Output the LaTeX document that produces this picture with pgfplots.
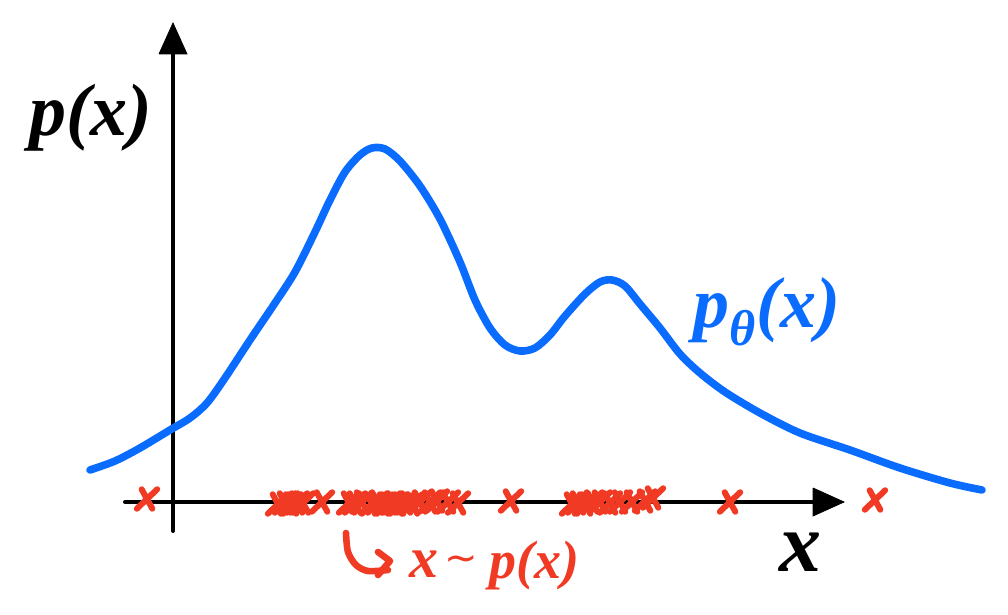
\documentclass[border=0pt]{standalone}
\usepackage{fontspec}
\setmainfont{Liberation Serif}
\newfontfamily\symfont{DejaVu Sans}
\usepackage{pgfplots}
\pgfplotsset{compat=1.18}
\definecolor{curveblue}{HTML}{0A6CFF}
\definecolor{samplered}{HTML}{F03A24}
\newcommand{\hand}[1]{\fontsize{#1}{#1}\selectfont\bfseries\itshape}
\begin{document}
\begin{tikzpicture}
\begin{axis}[
    scale only axis,
    width=504pt, height=307.5pt,
    xmin=0, xmax=1008, ymin=0, ymax=615,
    y dir=reverse,
    hide axis,
    clip=false,
]
% axes, in image pixels
\addplot[black, line width=2pt, line cap=round] coordinates {(125,502) (815,502)};
\addplot[black, line width=2pt, line cap=round] coordinates {(173,531) (173,50)};
\addplot[black, fill=black] coordinates {(159,54) (173,23) (187,54) (159,54)};
\addplot[black, fill=black] coordinates {(813,488) (844,502) (813,516) (813,488)};

% density curve
\addplot[curveblue, line width=3.8pt, line cap=round, smooth] coordinates {
    (90,470) (115,461) (140,448) (170,430) (190,418) (207,403) (225,378)
    (250,340) (275,303) (295,272) (315,232) (330,200) (345,172) (360,155)
    (372,148) (385,149) (400,161) (420,186) (440,219) (460,262) (475,300)
    (490,328) (505,345) (520,351) (535,348) (550,335) (565,316) (585,294)
    (600,282) (612,280) (625,286) (640,304) (660,328) (680,354) (700,373)
    (725,392) (760,413) (800,433) (850,450) (900,468) (950,483) (982,490)
};

% samples
\addplot[only marks, samplered, mark=x, mark size=5.5pt,
    mark options={line width=3pt, line cap=round, xslant=0.25, yscale=1.25}] coordinates {
    (147,499) (278,504) (285,503) (291,504) (297,503) (303,503) (322,502)
    (349,503) (355,503) (362,502) (372,504) (378,503) (385,504) (392,503)
    (398,504) (405,503) (412,504) (420,502) (430,502) (437,501) (448,502) (458,503)
    (511,501) (572,504) (578,503) (585,504) (592,502) (600,502) (610,503)
    (620,502) (632,502) (645,501) (653,498) (730,502) (875,500)
};

% hook arrow
\addplot[samplered, line width=3.3pt, line cap=round, smooth] coordinates {
    (346,533) (348,552) (356,565) (368,571) (388,570)
};
\addplot[samplered, line width=3.3pt, line cap=round, line join=round] coordinates {(378,552) (390,561) (378,575)};

% labels
\node[inner sep=0pt] at (axis cs:91,118) {\hand{37}p(x)};
\node[inner sep=0pt] at (axis cs:800,552) {\hand{42}x};
\node[inner sep=0pt, text=curveblue] at (axis cs:767,312) {\hand{36}p\textsubscript{θ}(x)};
\node[inner sep=0pt, text=samplered] at (axis cs:424,564) {\hand{29}x};
\node[inner sep=0pt, text=samplered] at (axis cs:461,564) {\fontsize{20}{20}\selectfont\symfont ∼};
\node[inner sep=0pt, text=samplered] at (axis cs:534,566) {\hand{27}p(x)};

% keep the whole canvas as the page
\path[use as bounding box] (axis cs:0,0) rectangle (axis cs:1008,615);
\end{axis}
\end{tikzpicture}
\end{document}
